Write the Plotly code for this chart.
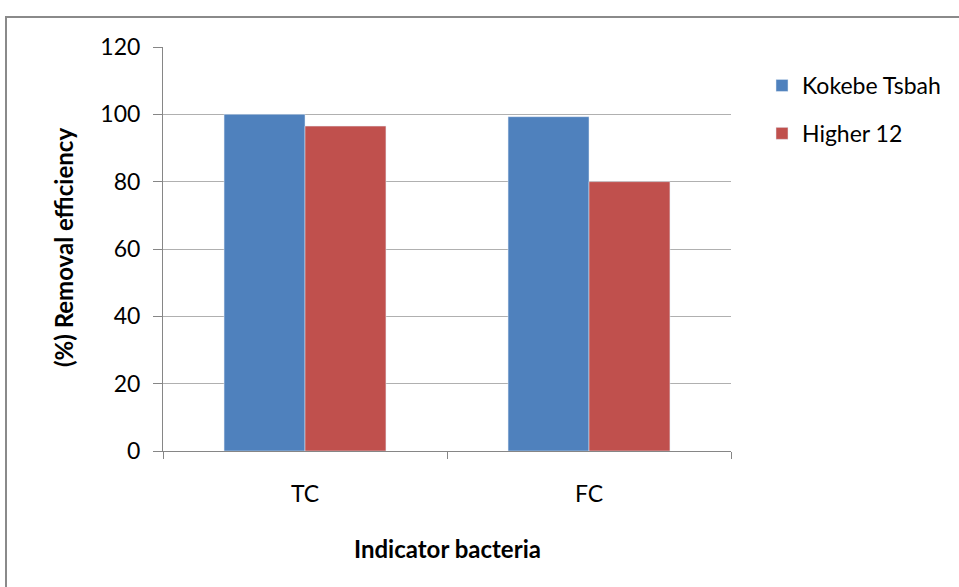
import plotly.graph_objects as go

categories = ["TC", "FC"]
series_names = ["Kokebe Tsbah", "Higher 12"]
kokebe = [100, 99.3]
higher = [96.5, 80]
colors = ["#4F81BD", "#C0504D"]
y_ticks = [0, 20, 40, 60, 80, 100, 120]

FONT = "Lato"
W, H = 959, 587
ML, MR, MT, MB = 163, 228, 47, 136
PW, PH = W - ML - MR, H - MT - MB

def px_x(p):
    return (p - ML) / PW

def px_y(p):
    return (H - MB - p) / PH

fig = go.Figure()
for name, vals, col in zip(series_names, [kokebe, higher], colors):
    fig.add_trace(go.Bar(x=categories, y=vals, name=name, marker_color=col,
                         legendgroup=name))

fig.update_layout(
    width=W, height=H,
    margin=dict(l=ML, r=MR, t=MT, b=MB, pad=0, autoexpand=False),
    paper_bgcolor="white", plot_bgcolor="white",
    barmode="group", bargap=0.43, bargroupgap=0,
    font=dict(family=FONT, size=23, color="#000000"),
    showlegend=True,
    legend=dict(xref="container", yref="container",
                x=762 / W, y=1 - 64 / H, xanchor="left", yanchor="top",
                font=dict(family=FONT, size=23, color="#000000"),
                tracegroupgap=15, bgcolor="rgba(0,0,0,0)"),
    xaxis=dict(showline=True, linecolor="#868686", linewidth=1,
               ticks="outside", tickson="boundaries", ticklen=7,
               tickcolor="#868686", showgrid=False,
               tickfont=dict(family=FONT, size=23),
               ticklabelstandoff=22),
    yaxis=dict(range=[0, 120], tickvals=y_ticks, showline=True,
               linecolor="#868686", linewidth=1, ticks="outside", ticklen=9,
               tickcolor="#868686", showgrid=True, gridcolor="#b0b0b0",
               gridwidth=1, zeroline=False,
               tickfont=dict(family=FONT, size=23),
               ticklabelstandoff=8),
    shapes=[dict(type="rect", xref="paper", yref="paper",
                 x0=px_x(6), x1=px_x(1100), y0=px_y(700), y1=px_y(17),
                 line=dict(color="#8a8a8a", width=2), layer="below")],
    annotations=[
        dict(text="<b>Indicator bacteria</b>", xref="paper", yref="paper",
             x=px_x(447), y=px_y(548), xanchor="center", yanchor="middle",
             showarrow=False, font=dict(family=FONT, size=24)),
        dict(text="<b>(%) Removal efficiency</b>", xref="paper", yref="paper",
             x=px_x(63), y=px_y(248), xanchor="center", yanchor="middle",
             textangle=-90, showarrow=False, font=dict(family=FONT, size=24)),
    ],
)

fig.write_html("out.html")
